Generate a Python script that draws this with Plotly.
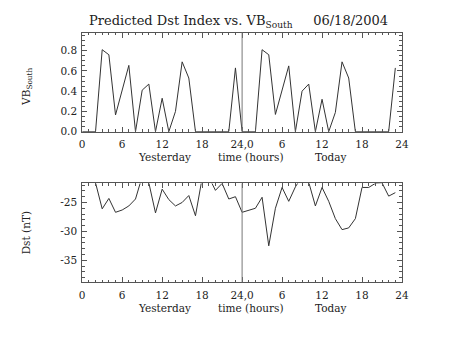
import plotly.graph_objects as go

hours = list(range(48))
vb_south = [0, 0, 0, 0.81, 0.76, 0.165, 0.41, 0.655, 0, 0.41, 0.47, 0, 0.33, 0, 0.2, 0.69, 0.53, 0,
            0, 0, 0, 0, 0, 0.63,
            0, 0, 0, 0.81, 0.76, 0.17, 0.41, 0.65, 0, 0.40, 0.47, 0, 0.32, 0, 0.19, 0.69, 0.53, 0,
            0, 0, 0, 0, 0, 0.63]
dst = [-20.5, -20.8, -21.6, -26.1, -24.3, -26.7, -26.3, -25.6, -24.4, -20.5, -21.6, -26.8,
       -22.7, -24.5, -25.6, -25.0, -23.8, -27.3, -20.8, -20.6, -22.9, -21.7, -24.4, -24.0,
       -26.7, -26.4, -26.0, -24.1, -32.5, -26.0, -22.4, -24.8, -22.3, -20.5, -21.5, -25.6,
       -22.4, -24.8, -27.8, -29.7, -29.4, -27.8, -22.4, -22.4, -21.7, -21.6, -23.9, -23.3]
x_tickvals = [0, 6, 12, 18, 24, 30, 36, 42, 48]
x_ticktext = ["0", "6", "12", "18", "24,0", "6", "12", "18", "24"]
vb_ticks = [0.0, 0.2, 0.4, 0.6, 0.8]
dst_ticks = [-25, -30, -35]
day_split = 24

FONT = "DejaVu Serif"
AX = "#555"
LINE = "#333"
TXT = "#222"
FS = 10.5

fig = go.Figure()
fig.add_trace(go.Scatter(x=hours, y=vb_south, mode="lines", line=dict(color=LINE, width=1),
                         xaxis="x", yaxis="y", showlegend=False))
fig.add_trace(go.Scatter(x=hours, y=dst, mode="lines", line=dict(color=LINE, width=1),
                         xaxis="x2", yaxis="y2", showlegend=False))

common_x = dict(range=[0, 48], tickvals=x_tickvals, ticktext=x_ticktext, ticks="inside",
                ticklen=5, tickcolor=AX, showline=True, linecolor=AX, linewidth=1,
                mirror="ticks", showgrid=False, zeroline=False, ticklabelstandoff=3,
                tickfont=dict(family=FONT, size=FS, color=TXT),
                minor=dict(dtick=1, tick0=0, ticks="inside", ticklen=2.5, tickcolor=AX, showgrid=False),
                domain=[81 / 453, 408 / 453])
common_y = dict(ticks="inside", ticklen=5, tickcolor=AX, showline=True, linecolor=AX, linewidth=1,
                mirror="ticks", showgrid=False, zeroline=False, ticklabelstandoff=2,
                tickfont=dict(family=FONT, size=FS, color=TXT))

fig.update_layout(
    width=453, height=340, margin=dict(l=0, r=0, t=0, b=0),
    paper_bgcolor="white", plot_bgcolor="white",
    xaxis=dict(**common_x, anchor="y"),
    xaxis2=dict(**common_x, anchor="y2"),
    yaxis=dict(**common_y, range=[0, 0.978], tickvals=vb_ticks, ticktext=["%.1f" % v for v in vb_ticks],
               minor=dict(dtick=0.05, tick0=0, ticks="inside", ticklen=2.5, tickcolor=AX, showgrid=False),
               domain=[1 - 134 / 340, 1 - 33.3 / 340], anchor="x"),
    yaxis2=dict(**common_y, range=[-38.8, -21.7], tickvals=dst_ticks, ticktext=[str(v) for v in dst_ticks],
                minor=dict(dtick=1, tick0=-40, ticks="inside", ticklen=2.5, tickcolor=AX, showgrid=False),
                domain=[1 - 287.3 / 340, 1 - 186.7 / 340], anchor="x2"),
    font=dict(family=FONT, color=TXT),
)

for xr, yr in (("x", "y domain"), ("x2", "y2 domain")):
    fig.add_shape(type="line", xref=xr, yref=yr, x0=day_split, x1=day_split, y0=0, y1=1,
                  line=dict(color="#777", width=1))

ann = []
ann.append(dict(text="Predicted Dst Index vs. VB<sub>South</sub>     06/18/2004", x=241 / 453, y=1 - 22 / 340,
                xref="paper", yref="paper", showarrow=False, font=dict(family=FONT, size=13, color=TXT),
                xanchor="center", yanchor="middle"))
for yc in (160, 314):
    ann.append(dict(text="Yesterday", x=12.3, xref="x", y=1 - yc / 340, yref="paper", showarrow=False,
                    font=dict(family=FONT, size=FS, color=TXT), xanchor="center", yanchor="middle"))
    ann.append(dict(text="time (hours)", x=25.3, xref="x", y=1 - yc / 340, yref="paper", showarrow=False,
                    font=dict(family=FONT, size=FS, color=TXT), xanchor="center", yanchor="middle"))
    ann.append(dict(text="Today", x=37.3, xref="x", y=1 - yc / 340, yref="paper", showarrow=False,
                    font=dict(family=FONT, size=FS, color=TXT), xanchor="center", yanchor="middle"))
ann.append(dict(text="VB<sub>South</sub>", x=25 / 453, y=1 - 88 / 340, xref="paper", yref="paper",
                showarrow=False, textangle=-90, font=dict(family=FONT, size=FS, color=TXT),
                xanchor="center", yanchor="middle"))
ann.append(dict(text="Dst (nT)", x=23 / 453, y=1 - 237 / 340, xref="paper", yref="paper",
                showarrow=False, textangle=-90, font=dict(family=FONT, size=FS, color=TXT),
                xanchor="center", yanchor="middle"))
fig.update_layout(annotations=ann)

fig.write_html("out.html")
